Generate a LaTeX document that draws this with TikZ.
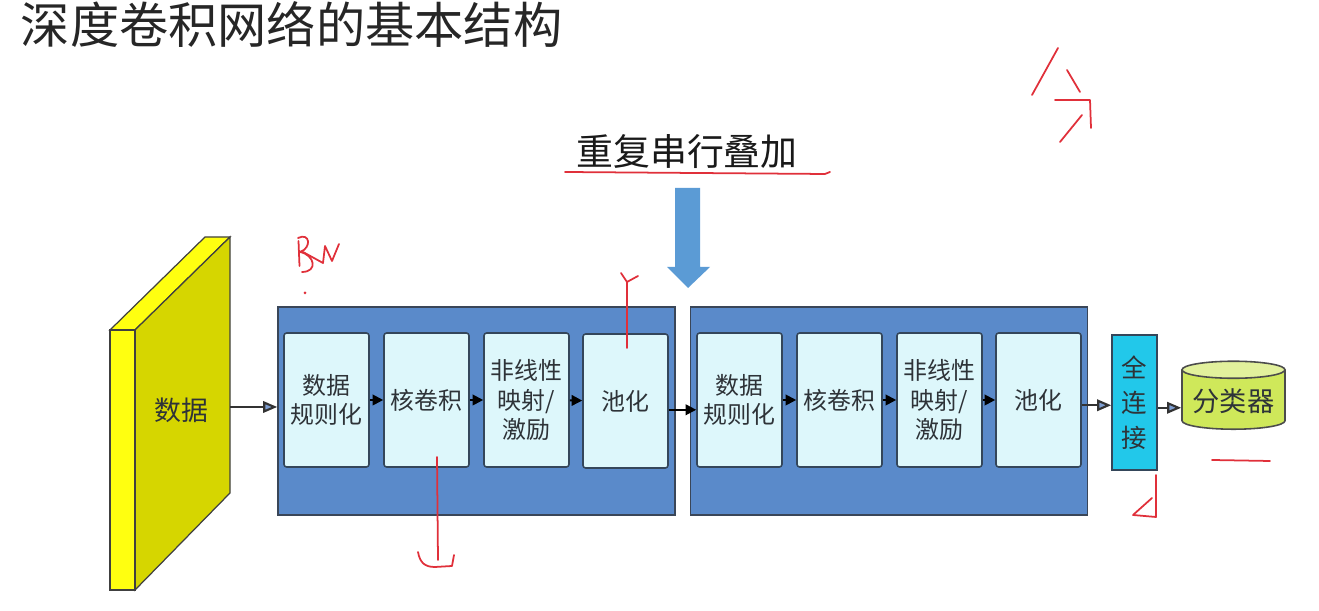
\documentclass[tikz,border=0pt]{standalone}
\usepackage{fontspec}
\newfontfamily\cjk{Noto Sans CJK SC}
\usetikzlibrary{calc, arrows.meta, positioning, shapes.geometric}
\definecolor{stackbg}{HTML}{5A8ACA}
\definecolor{stackborder}{HTML}{3A4658}
\definecolor{stagebg}{HTML}{DDF7FB}
\definecolor{stageborder}{HTML}{34465A}
\definecolor{textgray}{HTML}{2E3338}
\definecolor{datafront}{HTML}{FFFF10}
\definecolor{dataside}{HTML}{D6D600}
\definecolor{fccyan}{HTML}{22C8EA}
\definecolor{clsgreen}{HTML}{CFE85A}
\definecolor{reparrow}{HTML}{5B9BD5}
\definecolor{tipblue}{HTML}{7E9ED2}
\definecolor{pen}{HTML}{E0303A}

\begin{document}
\begin{tikzpicture}[
    >={Triangle[length=6pt, width=6pt]},
    line width=1.1pt,
    stage_style/.style={draw=stageborder, fill=stagebg, rounded corners=1.5pt, line width=0.9pt, minimum width=1.7cm, minimum height=2.68cm, align=center, inner sep=1pt, text=textgray, font=\cjk\fontsize{13.6}{16.6}\selectfont},
    stack_style/.style={draw=stackborder, fill=stackbg, line width=0.9pt, minimum width=7.94cm, minimum height=4.16cm},
    fc_style/.style={draw=stageborder, fill=fccyan, line width=0.9pt, minimum width=0.9cm, minimum height=2.7cm, align=center, inner sep=1pt, text=textgray, font=\cjk\fontsize{14.5}{20}\selectfont},
    cls_style/.style={cylinder, shape border rotate=90, aspect=0.2, draw=black!70, line width=0.9pt, cylinder uses custom fill, cylinder body fill=clsgreen, cylinder end fill=clsgreen!60!white, minimum width=2.06cm, minimum height=1.36cm, inner sep=1pt, text=textgray, font=\cjk\fontsize{15.5}{18}\selectfont},
    outarrow/.style={->, >={Triangle[length=8pt, width=6.5pt, fill=tipblue]}, draw=black!80, line width=1.2pt},
    hand/.style={draw=pen, line width=1pt, line cap=round, line join=round}
]
    \useasboundingbox (0,0) rectangle (26.38,12.22);

    % Title
    \node[anchor=west, inner sep=0pt, text=black!85, font=\cjk\fontsize{28}{30}\selectfont] (title) at (0.40,11.72) {深度卷积网络的基本结构};

    % Repeat label and arrow
    \node[font=\cjk\fontsize{21}{24}\selectfont, text=black!90] (rep) at (13.74,9.18) {重复串行叠加};
    \fill[reparrow] (13.50,8.46) -- (14.00,8.46) -- (14.00,6.88) -- (14.20,6.88) -- (13.76,6.46) -- (13.34,6.88) -- (13.50,6.88) -- cycle;

    % --- Data slab ---
    \filldraw[fill=datafront, draw=black!75, line width=0.7pt] (2.20,5.62) -- (4.10,7.48) -- (4.60,7.48) -- (2.70,5.62) -- cycle;
    \filldraw[fill=dataside, draw=black!75, line width=0.7pt] (2.70,5.62) -- (4.60,7.48) -- (4.60,2.36) -- (2.70,0.42) -- cycle;
    \filldraw[fill=datafront, draw=black!75, line width=0.7pt] (2.20,5.62) rectangle (2.70,0.42);
    \node[text=textgray, font=\cjk\fontsize{15.3}{18}\selectfont] (data) at (3.62,4.02) {数据};
    \coordinate (data_out) at (4.60,4.08);

    % --- Stacks ---
    \node[stack_style] (stack1) at (9.53,4.00) {};
    \node[stack_style] (stack2) at (17.78,4.00) {};

    % First stack
    \node[stage_style] (norm1) at (6.53,4.22) {数据\\规则化};
    \node[stage_style] (conv1) at (8.53,4.22) {核卷积};
    \node[stage_style] (act1) at (10.53,4.22) {非线性\\映射/\\激励};
    \node[stage_style] (pool1) at (12.51,4.20) {池化};

    % Second stack
    \node[stage_style] (norm2) at (14.79,4.22) {数据\\规则化};
    \node[stage_style] (conv2) at (16.79,4.22) {核卷积};
    \node[stage_style] (act2) at (18.79,4.22) {非线性\\映射/\\激励};
    \node[stage_style] (pool2) at (20.77,4.22) {池化};

    % Fully connected & classifier
    \node[fc_style] (fc) at (22.69,4.17) {全\\连\\接};
    \node[cls_style] (cls) at (24.67,4.20) {分类器};

    % Flow
    \draw[outarrow] (data_out) -- (data_out -| stack1.west);
    \draw[->] (norm1) -- (conv1);
    \draw[->] (conv1) -- (act1);
    \draw[->] (act1) -- (pool1);
    \draw[->] ([yshift=-5pt]pool1.east) -- ([yshift=-5pt]pool1.east -| norm2.west);
    \draw[->] (norm2) -- (conv2);
    \draw[->] (conv2) -- (act2);
    \draw[->] (act2) -- (pool2);
    \draw[outarrow] ([yshift=-3pt]pool2.east) -- ([yshift=-3pt]pool2.east -| fc.west);
    \draw[outarrow] ([yshift=-3pt]fc.east) -- ([yshift=-3pt]fc.east -| cls.west);

    % Pen marks
    \draw[hand] (11.30,8.78) -- (16.50,8.74) -- (16.60,8.78);
    \draw[hand] (21.16,11.26) -- (20.64,10.32);
    \draw[hand] (21.34,10.82) -- (21.60,10.38);
    \draw[hand] (21.10,10.22) -- (21.80,10.22) -- (21.82,9.66);
    \draw[hand] (21.64,9.92) -- (21.20,9.38);
    \draw[hand] (5.96,7.46) .. controls (6.20,7.58) and (6.24,7.26) .. (6.00,7.18) .. controls (6.30,7.12) and (6.36,6.78) .. (6.04,6.78);
    \draw[hand] (5.97,7.40) -- (5.99,6.90);
    \draw[hand] (6.06,7.18) -- (6.46,6.96) -- (6.50,7.30) -- (6.64,7.00) -- (6.78,7.34);
    \fill[pen] (6.10,6.36) circle (0.03);
    \draw[hand] (12.54,5.26) -- (12.54,6.58);
    \draw[hand] (12.42,6.76) -- (12.54,6.58) -- (12.76,6.70);
    \draw[hand] (8.74,3.08) -- (8.76,1.02);
    \draw[hand] (8.36,1.18) .. controls (8.40,0.96) and (8.50,0.88) .. (8.70,0.88) -- (9.04,0.90) -- (9.08,1.12);
    \draw[hand] (23.12,2.72) -- (23.12,1.88) -- (22.66,1.92) -- (23.04,2.26);
    \draw[hand] (24.24,3.02) -- (25.40,3.00);

\end{tikzpicture}
\end{document}
